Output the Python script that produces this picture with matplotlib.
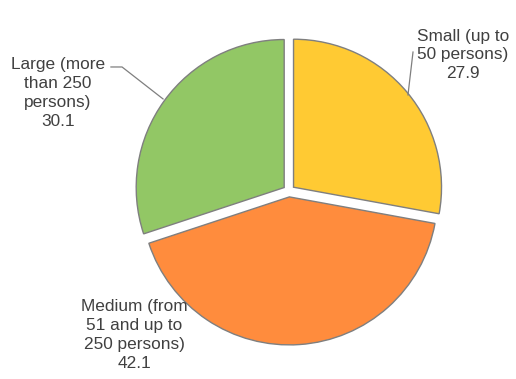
import matplotlib.pyplot as plt

plt.rcParams['font.family'] = ['Liberation Sans', 'DejaVu Sans']

labels = ["Small (up to\n50 persons)", "Medium (from\n51 and up to\n250 persons)", "Large (more\nthan 250\npersons)"]
values = [27.9, 42.1, 30.1]
colors = ["#FFCA33", "#FF8C3D", "#92C765"]

fig = plt.figure(figsize=(5.16, 3.79), dpi=100)
ax = fig.add_axes([0.1872, -0.0116, 0.7457, 1.0153])

wedges, _ = ax.pie(values, colors=colors, startangle=90, counterclock=False,
                   explode=[0.04, 0.04, 0.04],
                   wedgeprops=dict(edgecolor="#7f7f7f", linewidth=1.0))
ax.set_xlim(-1.3, 1.3)
ax.set_ylim(-1.3, 1.3)
ax.set_aspect("equal")
ax.axis("off")

txt = "#404040"
label_pos = [(1.176, 0.919), (-1.044, -0.973), (-1.561, 0.662)]
for lab, v, (x, y) in zip(labels, values, label_pos):
    ax.text(x, y, f"{lab}\n{v}", ha="center", va="center", fontsize=12.4,
            color=txt, linespacing=1.32, clip_on=False)

# leader lines
ax.plot([-1.203, -1.128, -0.851], [0.838, 0.838, 0.622], color="#7f7f7f", lw=0.9, clip_on=False)
ax.plot([0.838, 0.804], [0.939, 0.649], color="#7f7f7f", lw=0.9, clip_on=False)

fig.savefig("out.png", dpi=100)
